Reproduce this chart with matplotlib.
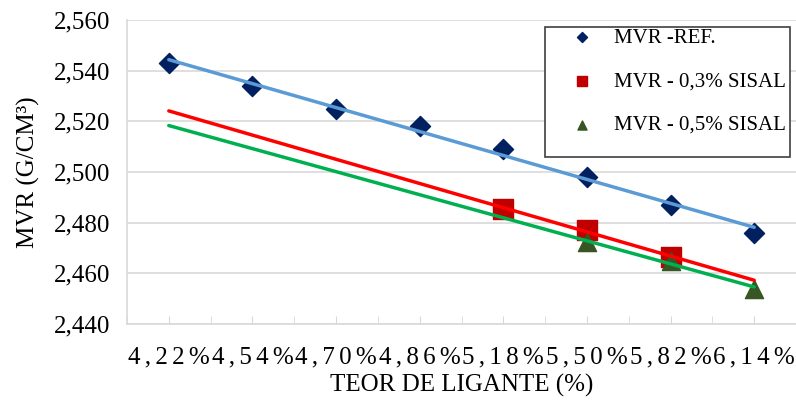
"""
MVR x teor de ligante, com linhas de tendencia
"""

import matplotlib
matplotlib.use('Agg')
import matplotlib.pyplot as plt
from matplotlib.patches import Rectangle
import numpy as np

# Data
teores = ['4,22%', '4,54%', '4,70%', '4,86%', '5,18%', '5,50%', '5,82%', '6,14%']
mvr_ref = [2.543, 2.534, 2.525, 2.518, 2.509, 2.498, 2.487, 2.476]
# 0,3% sisal: only the last positions were measured
idx_03 = [4, 5, 6]
mvr_03 = [2.4855, 2.4772, 2.4664]
idx_05 = [5, 6, 7]
mvr_05 = [2.4722, 2.4650, 2.4540]
y_ticks = [2.440, 2.460, 2.480, 2.500, 2.520, 2.540, 2.560]

plt.rcParams['font.family'] = ['Liberation Serif', 'DejaVu Serif']

fig = plt.figure(figsize=(7.96, 4.03), dpi=100)
ax = fig.add_axes([127 / 796, 1 - 324 / 403, 669 / 796, 304 / 403])

pos = np.arange(1, len(teores) + 1)
ref_x = pos
x03 = pos[idx_03]
x05 = pos[idx_05]

ax.scatter(ref_x, mvr_ref, marker='D', s=105, color='#002060',
           label='MVR -REF.', zorder=3)
ax.scatter(x03, mvr_03, marker='s', s=190, color='#C00000',
           label='MVR - 0,3% SISAL', zorder=3)
ax.scatter(x05, mvr_05, marker='^', s=170, color='#375623',
           label='MVR - 0,5% SISAL', zorder=3)

# Linear trendlines (Excel style), extended over the whole axis
for xs, ys, c in [(ref_x, mvr_ref, '#5B9BD5'),
                  (x03, mvr_03, '#FF0000'),
                  (x05, mvr_05, '#00B050')]:
    k, b = np.polyfit(xs, ys, 1)
    ax.plot(pos[[0, -1]], k * pos[[0, -1]] + b, color=c, lw=2.5,
            solid_capstyle='round', zorder=4)

ax.set_xlim(0.5, len(teores) + 0.5)
ax.set_ylim(2.440, 2.560)
ax.set_yticks(y_ticks)
ax.set_yticklabels([f'{v:.3f}'.replace('.', ',') for v in y_ticks], fontsize=18)
ax.set_xticks(pos)
# Excel spreads the characters of the category labels
ax.set_xticklabels(['\u200a\u200a'.join(t) for t in teores], fontsize=18)
ax.set_xticks(np.arange(0.5, len(teores) + 1, 1.0), minor=True)
ax.tick_params(axis='x', which='both', direction='in', length=6, color='#D9D9D9',
               pad=16)
ax.tick_params(axis='y', length=0, pad=12)
ax.grid(axis='y', color='#D9D9D9', lw=1.2)
ax.set_axisbelow(True)
for s in ['top', 'right']:
    ax.spines[s].set_visible(False)
for s in ['left', 'bottom']:
    ax.spines[s].set_color('#D9D9D9')
    ax.spines[s].set_linewidth(1.2)

ax.set_xlabel('TEOR DE LIGANTE (%)', fontsize=18, labelpad=4)
ax.set_ylabel('MVR (G/CM\u00b3)', fontsize=18, labelpad=10)

# legend box, taller at the bottom as in the Excel original
ax.add_patch(Rectangle((0.625, 0.549), 0.366, 0.428, transform=ax.transAxes,
                       facecolor='white', edgecolor='#404040', lw=1.2,
                       zorder=5, clip_on=False))
leg = ax.legend(loc='upper left', bbox_to_anchor=(0.625, 1.0), fontsize=15,
                markerscale=0.5, labelspacing=1.15, handletextpad=0.2,
                borderpad=0.4, borderaxespad=0, frameon=False,
                handlelength=2.7)
leg.set_zorder(6)

fig.savefig('out.png', dpi=100)
